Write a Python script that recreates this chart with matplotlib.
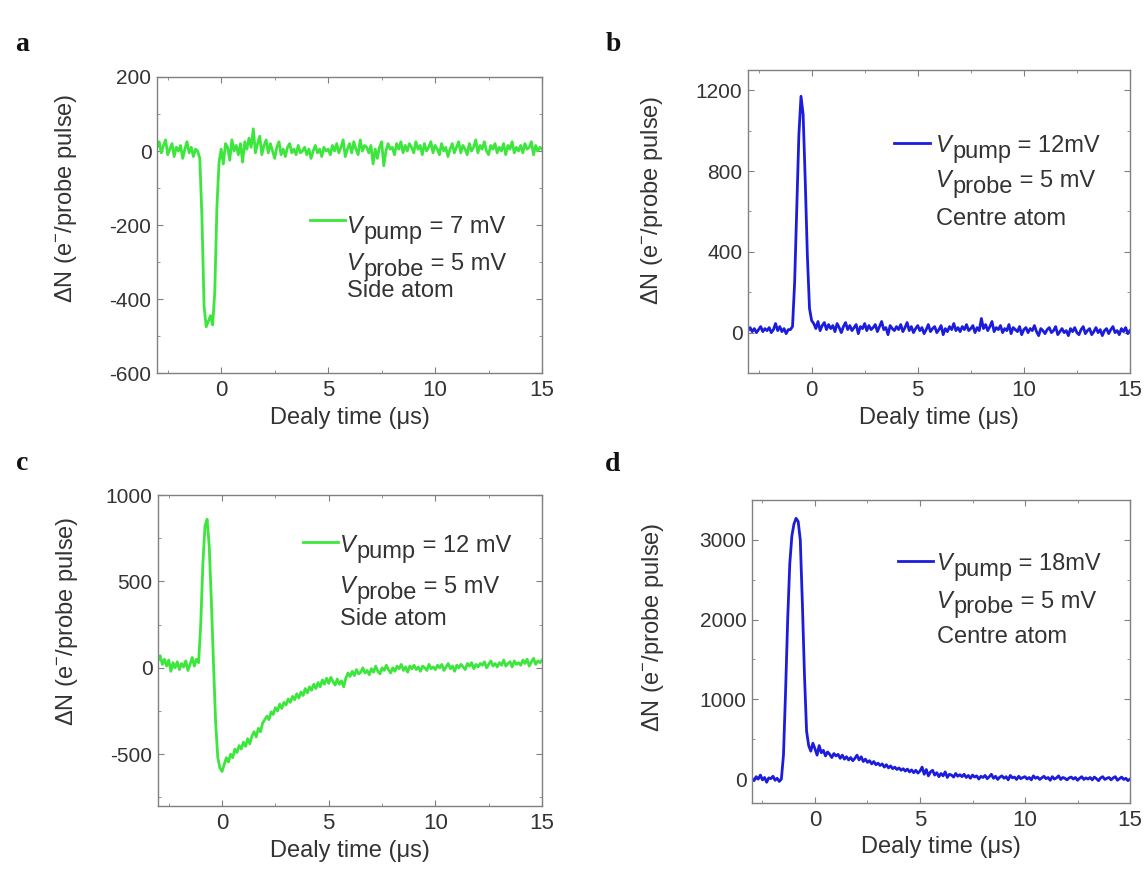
import numpy as np
import matplotlib
matplotlib.use("Agg")
from matplotlib import pyplot as plt
from matplotlib.ticker import MultipleLocator

plt.rcParams['font.family'] = ['Liberation Sans', 'DejaVu Sans']
plt.rcParams['mathtext.fontset'] = 'custom'
plt.rcParams['mathtext.rm'] = 'Liberation Sans'
plt.rcParams['mathtext.it'] = 'Liberation Sans:italic'
plt.rcParams['axes.unicode_minus'] = False

""" ------ data read off the figure (0.1 us steps, -3 .. 15 us) ------ """

time_us = np.round(np.arange(-3.0, 15.05, 0.1), 1)

side_7mv = [
    10, 25, -5, 15, 30, -10, 5, 20, -15, 10,
    0, 15, -20, 5, 25, -5, 10, -15, 5, 0,
    -20, -180, -420, -475, -460, -445, -470, -380, -150, -30,
    5, -35, 20, 10, -25, 30, 0, 15, -10, 20,
    -30, 25, 5, 35, 10, 60, -5, 20, 40, -10,
    15, 30, -5, 20, 0, -20, 10, 25, -10, 5,
    -15, 10, 20, -5, 5, -10, 15, -5, 0, 10,
    -10, 5, -20, 0, 15, -5, 5, -15, 10, 0,
    5, -10, 15, 0, 20, -5, 10, 30, -15, 5,
    20, -5, 25, 5, -10, 30, 0, 15, 10, -5,
    15, -35, 5, -20, 10, 25, -40, 0, 20, 5,
    10, -10, 20, 5, 25, -5, 15, 0, 20, 10,
    -5, 25, 5, 15, -10, 20, 0, 10, 25, -5,
    15, 5, -10, 20, 0, 10, -15, 5, 20, -5,
    10, 25, -5, 15, 5, -10, 20, 0, 10, 30,
    -5, 15, 5, 25, 0, -10, 15, 5, 20, -5,
    10, 0, 20, -10, 15, 5, 25, -5, 10, 0,
    15, -5, 20, 5, 10, 25, -10, 15, 0, 10,
    5,
]

centre_12mv = [
    10, 25, 5, 20, 0, 15, 30, 5, 20, 10,
    25, 0, 15, 45, 10, 30, 5, 20, -5, 15,
    15, 30, 250, 620, 980, 1170, 1080, 750, 380, 120,
    60, 45, 20, 55, 10, 35, 50, 15, 40, 20,
    35, 5, 45, 25, 0, 30, 50, 15, 35, 10,
    25, 40, -5, 30, 20, 45, 10, 35, 15, 25,
    40, 5, 30, 55, 15, 25, -10, 35, 20, 10,
    30, 15, 40, 5, 25, 50, 10, 30, 0, 20,
    35, 10, 25, -5, 15, 40, 5, 20, 30, 0,
    15, 35, -10, 20, 5, 30, 15, 45, 10, 25,
    5, 30, 15, 40, 10, 20, 35, 0, 25, 10,
    70, 20, 40, 10, 30, 55, 5, 25, 15, 35,
    0, 20, 10, 40, -5, 25, 15, 5, 30, -10,
    15, 25, 0, 20, 10, 35, 5, -15, 20, 10,
    -5, 15, 25, 0, 10, 30, -10, 5, 20, 0,
    10, -15, 20, 5, 25, 0, -10, 15, 30, -5,
    10, 20, -10, 5, 25, 0, 15, -15, 10, 20,
    -5, 15, 30, 0, 10, -10, 20, 5, 25, -5,
    10,
]

side_12mv = [
    40, 70, 20, 50, 10, 45, -20, 30, 0, 35,
    -10, 25, 5, 40, -15, 20, 60, 10, 50, 30,
    250, 600, 820, 860, 700, 380, 20, -320, -520, -580,
    -600, -560, -520, -545, -500, -520, -470, -490, -450, -470,
    -430, -455, -410, -440, -395, -370, -400, -350, -370, -320,
    -300, -280, -300, -255, -270, -230, -250, -210, -235, -200,
    -215, -180, -200, -165, -185, -150, -175, -140, -160, -120,
    -145, -110, -130, -95, -120, -85, -110, -70, -95, -60,
    -90, -55, -80, -100, -65, -95, -75, -110, -60, -30,
    -50, -20, -45, -10, -35, -25, 0, -30, -15, -40,
    -5, -25, 10, -20, -35, 0, -15, 15, -10, -30,
    0, -20, 10, -5, 20, -15, 5, -25, 10, -5,
    15, -10, 5, -20, 10, 0, -15, 20, -5, 5,
    -10, 15, 0, 20, -15, 5, 25, -5, 10, -20,
    15, 0, 20, 5, -10, 25, 10, 30, -5, 20,
    5, 25, 15, 35, 0, 20, 40, 10, 25, 5,
    30, 15, 45, 10, 25, 35, 5, 40, 20, 30,
    15, 45, 25, 50, 10, 35, 55, 20, 40, 30,
    45,
]

centre_18mv = [
    10, -20, 30, 0, 50, -10, 20, -40, 15, 5,
    35, -15, 10, -30, 0, 300, 1100, 2000, 2700, 3050,
    3200, 3270, 3230, 3000, 2200, 1300, 600, 420, 350, 450,
    380, 300, 420, 330, 360, 290, 340, 310, 270, 320,
    290, 310, 260, 300, 250, 280, 240, 270, 230, 260,
    300, 240, 280, 220, 250, 210, 230, 190, 220, 180,
    200, 170, 190, 150, 180, 140, 165, 130, 150, 120,
    140, 110, 130, 100, 125, 90, 115, 80, 110, 75,
    100, 150, 60, 120, 40, 90, 110, 50, 80, 30,
    70, 40, 90, 20, 60, 50, 25, 70, 35, 55,
    30, 60, 20, 45, 10, 50, 25, 40, 0, 35,
    20, 45, 5, 30, 60, 10, 35, -5, 25, 40,
    10, 30, -10, 45, 15, 25, -5, 35, 5, 20,
    30, 0, 20, -10, 40, 10, 25, -5, 15, 35,
    5, 20, -15, 30, 0, 15, 40, -5, 20, 10,
    -10, 15, 25, 0, 20, -15, 10, 30, -5, 15,
    0, 20, -10, 25, 5, -20, 15, 30, -5, 10,
    20, -10, 15, 30, -15, 5, 25, -5, 10, -20,
    0,
]

GREEN = '#3ce63c'
BLUE = '#1c1cdc'

# letter, axes rect, trace, colour, ylim, y major/minor, (pump text, atom text),
# legend layout (text x, handle right x, handle y, baseline 1, 2, 3) in axes fraction,
# y label anchor (right edge x, centre y) in axes fraction
PANELS = [
    ("a", [0.1369, 0.5727, 0.3357, 0.3391], side_7mv, GREEN, (-600, 200), 200, 100,
     (" = 7 mV", "Side atom"), (0.494, 0.488, 0.510, 0.473, 0.348, 0.257), (-0.203, 0.591)),
    ("b", [0.6521, 0.5727, 0.3330, 0.3471], centre_12mv, BLUE, (-200, 1300), 400, 200,
     (" = 12mV", "Centre atom"), (0.492, 0.476, 0.752, 0.729, 0.614, 0.488), (-0.217, 0.571)),
    ("c", [0.1378, 0.0767, 0.3348, 0.3562], side_12mv, GREEN, (-800, 1000), 500, 250,
     (" = 12 mV", "Side atom"), (0.474, 0.469, 0.842, 0.817, 0.685, 0.582), (-0.203, 0.595)),
    ("d", [0.6556, 0.0802, 0.3296, 0.3471], centre_18mv, BLUE, (-300, 3500), 1000, 500,
     (" = 18mV", "Centre atom"), (0.489, 0.479, 0.792, 0.769, 0.644, 0.528), (-0.228, 0.581)),
]

LETTER_POS = {"a": (0.0192, 0.9485), "b": (0.5344, 0.9485),
              "c": (0.0192, 0.4696), "d": (0.5344, 0.4674)}

fig = plt.figure(figsize=(11.47, 8.73), dpi=100)
txt = '#333333'
fs_xtick = 16
fs_ytick = 15
fs_lab = 17
fs_leg = 17


def sub_text(ax, x, y, sub, rest):
    """ V with a full size lowered subscript, then the rest of the line """
    t1 = ax.text(x, y, "V", transform=ax.transAxes, fontsize=fs_leg,
                 style='italic', color=txt, va='baseline', ha='left')
    t2 = ax.annotate(sub, xy=(1, 0), xycoords=t1, xytext=(0.5, -4),
                     textcoords='offset points', fontsize=fs_leg, color=txt,
                     va='bottom', ha='left')
    ax.annotate(rest, xy=(1, 0), xycoords=t2, xytext=(0, 4),
                textcoords='offset points', fontsize=fs_leg, color=txt,
                va='bottom', ha='left')


for letter, rect, trace, col, ylim, ymaj, ymin, (pump, atom), lay, ylab in PANELS:
    tx, hx, hy, b1, b2, b3 = lay
    ax = fig.add_axes(rect)
    line, = ax.plot(time_us, trace, color=col, lw=2.0)
    ax.set_xlim(-3, 15)
    ax.set_ylim(*ylim)
    ax.xaxis.set_major_locator(MultipleLocator(5))
    ax.xaxis.set_minor_locator(MultipleLocator(2.5))
    ax.yaxis.set_major_locator(MultipleLocator(ymaj))
    ax.yaxis.set_minor_locator(MultipleLocator(ymin))
    ax.tick_params(which='both', direction='in', top=True, right=True,
                   colors='#808080', labelcolor=txt)
    ax.tick_params(which='major', length=4.5)
    ax.tick_params(which='minor', length=2.5)
    ax.tick_params(axis='x', pad=5, labelsize=fs_xtick)
    ax.tick_params(axis='y', pad=4, labelsize=fs_ytick)
    for s in ax.spines.values():
        s.set_color('#808080')
        s.set_linewidth(1.0)
    ax.set_xlabel("Dealy time (μs)", fontsize=fs_lab, color=txt, labelpad=4)
    ax.set_ylabel(r"ΔN (e$^{-}$/probe pulse)", fontsize=fs_lab, color=txt)
    ax.yaxis.set_label_coords(*ylab)

    # legend handle only; its text is drawn by hand below
    ax.legend(handles=[line], labels=[''], loc='center right',
              bbox_to_anchor=(hx, hy), frameon=False, fontsize=fs_leg,
              handlelength=1.5, handletextpad=0, borderpad=0, borderaxespad=0)
    sub_text(ax, tx, b1, "pump", pump)
    sub_text(ax, tx, b2, "probe", " = 5 mV")
    ax.text(tx, b3, atom, transform=ax.transAxes, fontsize=fs_leg,
            color=txt, va='baseline', ha='left')

    fx, fy = LETTER_POS[letter]
    fig.text(fx, fy, letter, fontsize=20, fontweight='bold', ha='center', va='center',
             family='Liberation Serif', color='#111111')

plt.savefig("out.png", dpi=100)
